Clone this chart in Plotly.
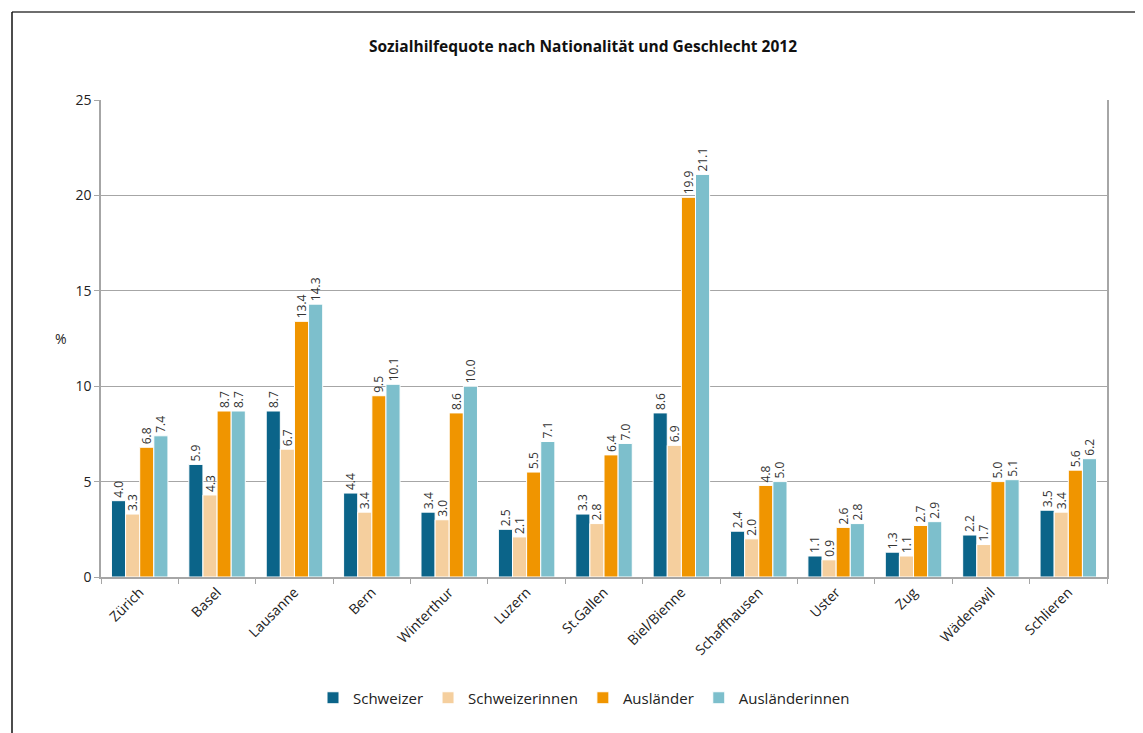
import plotly.graph_objects as go

categories = ["Zürich", "Basel", "Lausanne", "Bern", "Winterthur", "Luzern", "St.Gallen",
              "Biel/Bienne", "Schaffhausen", "Uster", "Zug", "Wädenswil", "Schlieren"]
schweizer = [4.0, 5.9, 8.7, 4.4, 3.4, 2.5, 3.3, 8.6, 2.4, 1.1, 1.3, 2.2, 3.5]
schweizerinnen = [3.3, 4.3, 6.7, 3.4, 3.0, 2.1, 2.8, 6.9, 2.0, 0.9, 1.1, 1.7, 3.4]
auslaender = [6.8, 8.7, 13.4, 9.5, 8.6, 5.5, 6.4, 19.9, 4.8, 2.6, 2.7, 5.0, 5.6]
auslaenderinnen = [7.4, 8.7, 14.3, 10.1, 10.0, 7.1, 7.0, 21.1, 5.0, 2.8, 2.9, 5.1, 6.2]

series = [
    ("Schweizer", schweizer, "#0b6489"),
    ("Schweizerinnen", schweizerinnen, "#f5cf9e"),
    ("Ausländer", auslaender, "#f09500"),
    ("Ausländerinnen", auslaenderinnen, "#7dbfcc"),
]

FONT = "Open Sans"

fig = go.Figure()
for name, vals, col in series:
    fig.add_trace(go.Bar(
        x=categories, y=vals, name=name,
        marker=dict(color=col, line=dict(color="white", width=1)),
        texttemplate="%{y:.1f}", textposition="outside", textangle=-90,
        textfont=dict(family=FONT, size=12, color="#333333"),
        cliponaxis=False, constraintext="none",
    ))

# page body has an 8px margin; reference pixel = figure pixel + 8
OFF = 8
W, H = 1143, 733
L, R, T, B = 101 - OFF, 1143 - (1107 - OFF), 100 - OFF, 733 - (577 - OFF)
pw, ph = W - L - R, H - T - B

def px2x(px):
    return (px - OFF - L) / pw

def py2y(py):
    return (H - B - (py - OFF)) / ph

fig.update_layout(
    width=W, height=H,
    margin=dict(l=L, r=R, t=T, b=B),
    paper_bgcolor="white", plot_bgcolor="white",
    barmode="group", bargap=0.27, bargroupgap=0,
    font=dict(family=FONT, color="#222222"),
    title=dict(text="<b>Sozialhilfequote nach Nationalität und Geschlecht 2012</b>",
               x=px2x(583), xref="paper", xanchor="center",
               y=1 - (47 - OFF) / H, yanchor="middle",
               font=dict(family=FONT, size=15.5, color="#111111")),
    showlegend=True,
    legend=dict(orientation="h", x=px2x(584), xanchor="center", y=py2y(698), yanchor="middle",
                font=dict(family=FONT, size=15, color="#222222"),
                itemwidth=30, traceorder="normal"),
    xaxis=dict(showline=True, linecolor="#a6a6a6", linewidth=1.5,
               ticks="outside", tickson="boundaries", ticklen=5, tickcolor="#a6a6a6",
               tickangle=-45, tickfont=dict(family=FONT, size=14, color="#222222"),
               showgrid=False),
    yaxis=dict(range=[0, 25], dtick=5, showline=True, linecolor="#a6a6a6", linewidth=1.5,
               mirror=True, ticks="outside", ticklen=5, tickcolor="#a6a6a6",
               showgrid=True, gridcolor="#a6a6a6", gridwidth=1,
               tickfont=dict(family=FONT, size=14, color="#222222"), zeroline=False),
    annotations=[dict(text="%", x=px2x(53), y=py2y(338), xref="paper", yref="paper",
                      showarrow=False, font=dict(family=FONT, size=14, color="#222222"))],
    shapes=[
        dict(type="line", xref="paper", yref="paper", x0=px2x(12), x1=px2x(1160),
             y0=py2y(12), y1=py2y(12), line=dict(color="#6e6e6e", width=2)),
        dict(type="line", xref="paper", yref="paper", x0=px2x(12), x1=px2x(12),
             y0=py2y(12), y1=py2y(760), line=dict(color="#111111", width=1.5)),
    ],
)

fig.write_html("out.html")
